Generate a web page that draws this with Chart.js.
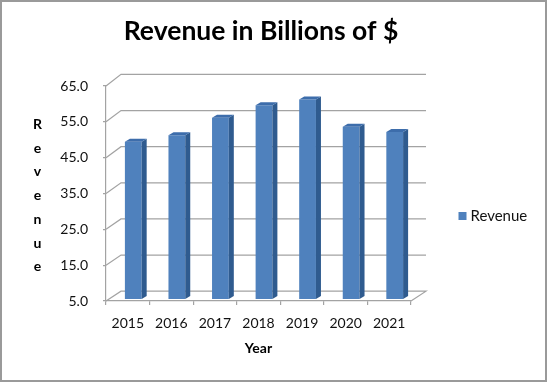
<!DOCTYPE html>
<html>
<head>
<meta charset="utf-8">
<script src="https://cdn.jsdelivr.net/npm/chart.js@4"></script>
<style>
  html, body { margin: 0; padding: 0; background: #fff; }
  canvas { display: block; }
</style>
</head>
<body>
<canvas id="c" width="547" height="382"></canvas>
<script>
// ---- data ----
const categories = ['2015', '2016', '2017', '2018', '2019', '2020', '2021'];
const revenue = [48.9, 50.7, 55.6, 59.1, 60.7, 53.1, 51.6];
const seriesName = 'Revenue';
const chartTitle = 'Revenue in Billions of $';
const yAxisTitle = 'Revenue';
const xAxisTitle = 'Year';
const yMin = 5, yMax = 65, yStep = 10;

const FONT = 'Lato, "Liberation Sans", sans-serif';
const GRID = '#a3a3a3';
const DEPTH_X = 15;       // back-wall offset
const BAR_SHIFT_X = 5.5;  // bars sit a little inside the depth
const BAR_SHIFT_Y = -2;
const SIDE_X = 5, SIDE_Y = -3;

function wallDy(v) { return -9.8 - 1.8 * (v - yMin) / (yMax - yMin); }

const decor = {
  id: 'decor',
  beforeDraw(chart) {
    const ctx = chart.ctx;
    ctx.save();
    ctx.fillStyle = '#fff';
    ctx.fillRect(0, 0, chart.width, chart.height);
    ctx.restore();
  },
  beforeDatasetsDraw(chart) {
    const ctx = chart.ctx;
    const ys = chart.scales.y;
    const a = chart.chartArea;
    ctx.save();
    ctx.strokeStyle = GRID;
    ctx.lineWidth = 1.2;
    ys.ticks.forEach(t => {
      const yf = ys.getPixelForValue(t.value);
      const dy = wallDy(t.value);
      ctx.beginPath();
      ctx.moveTo(a.left, yf);
      ctx.lineTo(a.left + DEPTH_X, yf + dy);
      ctx.lineTo(a.right + DEPTH_X, yf + dy);
      if (t.value === yMin) ctx.lineTo(a.right, yf);
      ctx.stroke();
    });
    ctx.restore();
    // shift the bars into the depth of the box
    ctx.save();
    ctx.translate(BAR_SHIFT_X, BAR_SHIFT_Y);
  },
  afterDatasetsDraw(chart) {
    const ctx = chart.ctx;
    const ys = chart.scales.y;
    const floor = ys.getPixelForValue(yMin);
    const meta = chart.getDatasetMeta(0);
    meta.data.forEach(bar => {
      const p = bar.getProps(['x', 'y', 'width'], true);
      const l = p.x - p.width / 2, r = p.x + p.width / 2;
      // side face
      ctx.fillStyle = '#2f5b8f';
      ctx.beginPath();
      ctx.moveTo(r, p.y);
      ctx.lineTo(r + SIDE_X, p.y + SIDE_Y);
      ctx.lineTo(r + SIDE_X, floor + SIDE_Y);
      ctx.lineTo(r, floor);
      ctx.closePath();
      ctx.fill();
      // top face
      ctx.fillStyle = '#3d6dab';
      ctx.beginPath();
      ctx.moveTo(l, p.y);
      ctx.lineTo(r, p.y);
      ctx.lineTo(r + SIDE_X, p.y + SIDE_Y);
      ctx.lineTo(l + SIDE_X, p.y + SIDE_Y);
      ctx.closePath();
      ctx.fill();
    });
    ctx.restore();
  },
  afterDraw(chart) {
    const ctx = chart.ctx;
    ctx.save();
    ctx.fillStyle = '#000';
    // title
    ctx.font = 'bold 26.5px ' + FONT;
    ctx.textAlign = 'center';
    ctx.textBaseline = 'alphabetic';
    ctx.fillText(chartTitle, 261, 40);
    // stacked y-axis title
    ctx.font = 'bold 14px ' + FONT;
    ctx.textAlign = 'center';
    yAxisTitle.split('').forEach((ch, i) => {
      ctx.fillText(ch, 37.5, 129 + i * 23.7);
    });
    // legend
    const ds = chart.data.datasets[0];
    ctx.fillStyle = ds.backgroundColor;
    ctx.fillRect(458.5, 212, 8, 8);
    ctx.fillStyle = '#111';
    ctx.font = '15px ' + FONT;
    ctx.textAlign = 'left';
    ctx.textBaseline = 'middle';
    ctx.fillText(ds.label, 470.5, 216.5);
    // border
    ctx.strokeStyle = '#9a9a9a';
    ctx.lineWidth = 2;
    ctx.strokeRect(1, 1, chart.width - 2, chart.height - 2);
    ctx.restore();
  }
};

new Chart(document.getElementById('c'), {
  type: 'bar',
  data: {
    labels: categories,
    datasets: [{
      label: seriesName,
      data: revenue,
      backgroundColor: '#4f81bd',
      borderWidth: 0,
      categoryPercentage: 1,
      barPercentage: 0.385
    }]
  },
  options: {
    responsive: false,
    animation: false,
    layout: { padding: { top: 86, right: 136, bottom: 0, left: 0 } },
    plugins: {
      legend: { display: false },
      title: { display: false },
      tooltip: { enabled: false }
    },
    scales: {
      x: {
        afterFit(s) { s.height = 81; },
        grid: { drawOnChartArea: false, drawTicks: true, tickLength: 4, color: GRID, lineWidth: 1.2, offset: true },
        border: { display: true, color: GRID, width: 1.2 },
        ticks: { color: '#111', font: { family: FONT, size: 14 }, padding: 10, maxRotation: 0 },
        title: { display: true, text: xAxisTitle, color: '#000', font: { family: FONT, size: 14, weight: 'bold' }, padding: { top: 4, bottom: 25 } }
      },
      y: {
        min: yMin, max: yMax,
        afterFit(s) { s.width = 106; },
        grid: { drawOnChartArea: false, drawTicks: true, tickLength: 3, color: GRID, lineWidth: 1.2 },
        border: { display: true, color: GRID, width: 1.2 },
        ticks: { stepSize: yStep, color: '#111', font: { family: FONT, size: 14 }, padding: 15,
                 callback: v => Number(v).toFixed(1) }
      }
    }
  },
  plugins: [decor]
});
</script>
</body>
</html>
